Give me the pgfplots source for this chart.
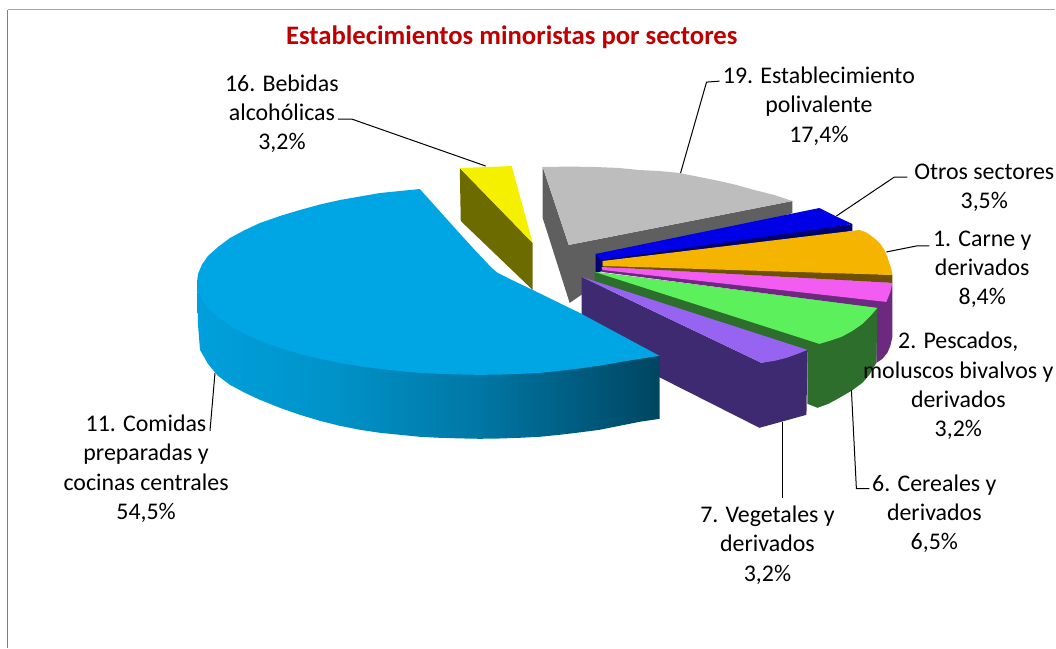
\documentclass[border=0pt]{standalone}
\usepackage{pgfplots}
\pgfplotsset{compat=1.18}
\usepackage{fontspec}
\setmainfont{Carlito}
\definecolor{cgray}{HTML}{BDBDBD}\definecolor{cgrayd}{HTML}{5F5F5F}
\definecolor{cyel}{HTML}{F5F000}\definecolor{cyeld}{HTML}{6B6B00}
\definecolor{cnavy}{HTML}{0000E6}\definecolor{cnavyd}{HTML}{000070}
\definecolor{corg}{HTML}{F4B400}\definecolor{corgd}{HTML}{6D5000}
\definecolor{cpink}{HTML}{F25CF0}\definecolor{cpinkd}{HTML}{6B2A7E}
\definecolor{cgrn}{HTML}{5CF05C}\definecolor{cgrnd}{HTML}{2D6E2D}
\definecolor{cvio}{HTML}{9664F0}\definecolor{cviod}{HTML}{3E2A70}
\definecolor{cblue}{HTML}{00A5E3}
\definecolor{sa}{HTML}{00A0DC}\definecolor{sb}{HTML}{0092C8}\definecolor{sc}{HTML}{0078A6}\definecolor{sd}{HTML}{005F84}\definecolor{se}{HTML}{004560}
\pgfdeclarehorizontalshading{bigside}{100bp}{
 color(0bp)=(sa);
 color(25bp)=(sa);
 color(40bp)=(sb);
 color(55bp)=(sc);
 color(65bp)=(sd);
 color(75bp)=(se);
 color(100bp)=(se)}
\tikzset{
  lab/.style={align=center,inner sep=0pt,font=\fontsize{23.9}{29.2}\selectfont,text=black},
  lead/.style={draw=black,line width=1pt,fill=none},
}
\begin{document}
\begin{tikzpicture}
\begin{axis}[
  width=1056pt,height=648pt,scale only axis,
  xmin=0,xmax=1056,ymin=0,ymax=648,y dir=reverse,
  hide axis,clip=false,
]
% page bounds and frame
\addplot[draw=white,fill=white,mark=none] coordinates {(0,0)(1056,0)(1056,648)(0,648)} --cycle;
\addplot[draw=black!35,line width=1.6pt,mark=none] coordinates {(1056,9.5)(7.5,9.5)};
\addplot[draw=black!50,line width=1.6pt,mark=none] coordinates {(7.5,9.5)(7.5,648)};
% 19. Establecimiento polivalente  17,4
\addplot[draw=none,fill=cgrayd,mark=none] coordinates {(543,167)(543,218)(570,303)(596,285)(596,273)(793,213)(793,201)(569,245)} --cycle;
\addplot[draw=none,fill=cgray,mark=none] coordinates {(543,167)(570,166.5)(597,167)(620,168)(640,170)(660,171)(680,173)(700,177)(720,181)(737,185)(755,190)(775,195)(793,201)(569,245)} --cycle;
% 16. Bebidas alcoholicas  3,2
\addplot[draw=none,fill=cyeld,mark=none] coordinates {(460,168)(461,221)(533,290)(533,243)} --cycle;
\addplot[draw=none,fill=cyel,mark=none] coordinates {(460,168)(512,166)(533,243)} --cycle;
% Otros sectores  3,5
\addplot[draw=none,fill=cnavyd,mark=none] coordinates {(596,254)(596,273)(603,271)(853,231)(853,224)} --cycle;
\addplot[draw=none,fill=cnavy,mark=none] coordinates {(596,254)(820,208)(838,217)(853,224)(602,260)} --cycle;
% 1. Carne y derivados  8,4
\addplot[draw=none,fill=corgd,mark=none] coordinates {(603,261)(603,267)(893,283)(893,275)} --cycle;
\addplot[draw=none,fill=corg,mark=none] coordinates {(603,261)(860,230)(866,232)(872,236)(877,240)(881,244)(885,250)(888,257)(890,263)(892,269)(893,275)(603,266)} --cycle;
% 2. Pescados, moluscos bivalvos y derivados  3,2
\addplot[draw=none,fill=cpinkd,mark=none] coordinates {(602,267)(893,283)(893,337)(891,346)(888,353)(883,359)(877,363)(877,308)(602,272)} --cycle;
\addplot[draw=none,fill=cpink,mark=none] coordinates {(602,267)(893,283)(891,292)(887,302)(603,270)} --cycle;
% 6. Cereales y derivados  6,5
\addplot[draw=none,fill=cgrnd,mark=none] coordinates {(595,272)(878,308)(877,363)(870,375)(863,383)(852,391)(840,398)(829,404)(818,408)(808,404)(808,352)(595,285)} --cycle;
\addplot[draw=none,fill=cgrn,mark=none] coordinates {(595,272)(878,308)(872,315)(863,324)(853,331)(842,337)(830,341)(820,344)} --cycle;
% 7. Vegetales y derivados  3,2
\addplot[draw=none,fill=cviod,mark=none] coordinates {(582,277)(762,363)(808,350)(807,415)(760,428)(661,378)(582,338)} --cycle;
\addplot[draw=none,fill=cvio,mark=none] coordinates {(582,277)(808,350)(798,354)(787,358)(775,361)(762,363)} --cycle;
% 11. Comidas preparadas y cocinas centrales  54,5
\addplot[draw=none,shading=bigside,mark=none] coordinates {(197,282)(198,325)(200,350)(208,364)(218,376)(230,385)(245,393)(260,400)(280,408)(300,415)(320,421)(340,426)(360,430)(380,433)(400,435)(420,437)(440,438)(460,438.6)(480,439)(500,438.7)(520,438)(540,437)(560,435)(580,432.6)(600,430)(620,426)(640,422)(660,419)(660,356)(530,340)(300,320)} --cycle;
\addplot[draw=none,fill=cblue,mark=none] coordinates {(420,189)(400,191)(380,193)(360,196.5)(340,200)(320,204.5)(300,210)(280,216)(260,223)(245,230)(230,238)(218,247)(208,256)(202,264.5)(198,274)(197,282)(198,290)(202,299.5)(208,308)(218,317)(230,326)(245,334)(260,341)(280,348)(300,354)(320,359)(340,363)(360,366.4)(380,369)(400,371.3)(420,373)(440,374)(460,374.6)(480,375)(500,374.7)(520,374)(540,373)(560,371)(580,368.6)(600,365.8)(620,362.3)(640,359)(660,356)(580,313)(533,290)(510,279)(498,273)(492,268)(475,250)(455,228)} --cycle;
% leader lines
\addplot[lead,mark=none] coordinates {(338,119)(352,119)(486,166)};
\addplot[lead,mark=none] coordinates {(720,81)(707,82)(681,173)};
\addplot[lead,mark=none] coordinates {(908,177)(895,177)(837,216)};
\addplot[lead,mark=none] coordinates {(930,246)(917,246)(887,252)};
\addplot[lead,mark=none] coordinates {(852,390)(857,489)(870,489)};
\addplot[lead,mark=none] coordinates {(783,422)(783,498)};
\addplot[lead,mark=none] coordinates {(215,373)(210,431)};
% texts
\node[inner sep=0pt,font=\fontsize{26.7}{30}\selectfont\bfseries,text={rgb,255:red,192;green,0;blue,0}] at (axis cs:512,37.5) {Establecimientos minoristas por sectores};
\node[lab] at (axis cs:282,113.5) {16. Bebidas\\alcohólicas\\3,2\%};
\node[lab] at (axis cs:819.5,106) {19. Establecimiento\\polivalente\\17,4\%};
\node[lab] at (axis cs:985,188) {Otros sectores\\3,5\%};
\node[lab] at (axis cs:983,269.5) {1. Carne y\\derivados\\8,4\%};
\node[lab] at (axis cs:959,386) {2. Pescados,\\moluscos bivalvos y\\derivados\\3,2\%};
\node[lab] at (axis cs:935,514) {6. Cereales y\\derivados\\6,5\%};
\node[lab] at (axis cs:768,545.5) {7. Vegetales y\\derivados\\3,2\%};
\node[lab] at (axis cs:146,469) {11. Comidas\\preparadas y\\cocinas centrales\\54,5\%};
\end{axis}
\end{tikzpicture}
\end{document}
